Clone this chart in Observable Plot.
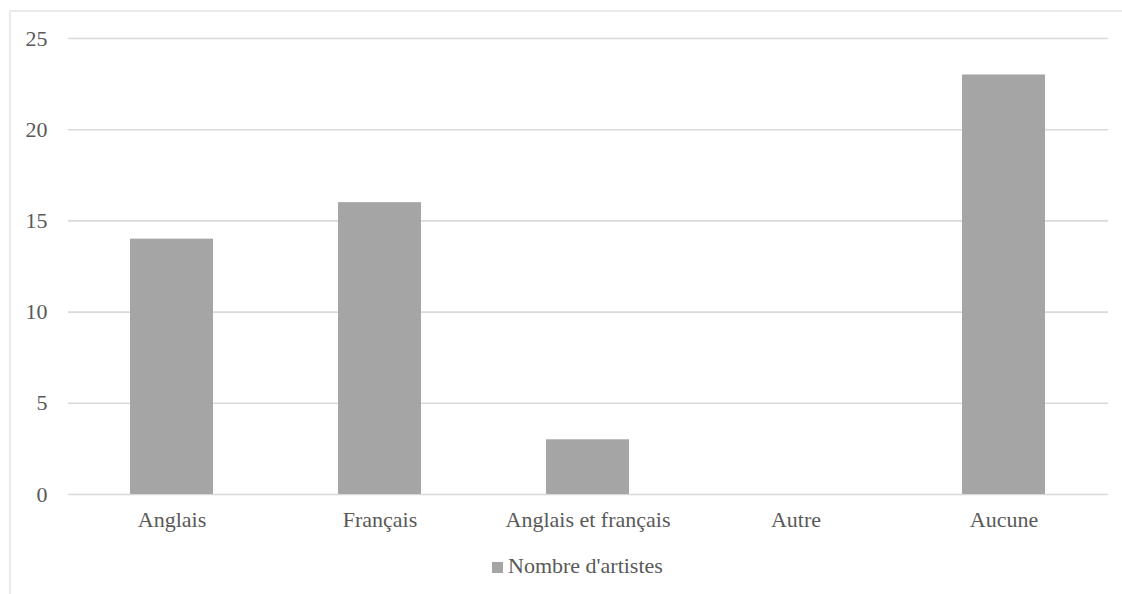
<!DOCTYPE html>
<html>
<head>
<meta charset="utf-8">
<script src="https://cdn.jsdelivr.net/npm/d3@7"></script>
<script src="https://cdn.jsdelivr.net/npm/@observablehq/plot@0.6"></script>
<style>
  html, body { margin: 0; padding: 0; background: #fff; }
  #wrap { position: relative; width: 1122px; height: 594px; overflow: hidden; font-family: "Liberation Serif", "Times New Roman", serif; }
  #frame { position: absolute; left: 9px; top: 10px; width: 1130px; height: 600px; border-left: 2px solid #ebebeb; border-top: 2px solid #ebebeb; }
  #chart { position: absolute; left: 0; top: 0; }
  #legend-sw { position: absolute; left: 492px; top: 562px; width: 11px; height: 11px; background: #a5a5a5; }
  #legend-tx { position: absolute; left: 508px; top: 555px; font-size: 22px; line-height: 22px; color: #595959; white-space: nowrap; }
</style>
</head>
<body>
<div id="wrap">
  <div id="frame"></div>
  <div id="chart"></div>
  <div id="legend-sw"></div>
  <div id="legend-tx"></div>
</div>
<script>
const categories = ["Anglais", "Français", "Anglais et français", "Autre", "Aucune"];
const values = [14, 16, 3, 0, 23];
const yTicks = [0, 5, 10, 15, 20, 25];
const seriesName = "Nombre d'artistes";

const data = categories.map((c, i) => ({ category: c, value: values[i] }));
document.getElementById("legend-tx").textContent = seriesName;

const chart = Plot.plot({
  width: 1122,
  height: 545,
  marginLeft: 68,
  marginRight: 14,
  marginTop: 38,
  marginBottom: 51,
  style: { fontFamily: "'Liberation Serif', 'Times New Roman', serif", fontSize: "22px", color: "#595959", background: "transparent" },
  x: { domain: categories, paddingInner: 0.6, paddingOuter: 0.3, label: null, tickSize: 0, tickPadding: 17 },
  y: { domain: [0, 25], ticks: yTicks, label: null, tickSize: 0, tickPadding: 21, tickFormat: d => String(d) },
  marks: [
    Plot.ruleY(yTicks, { stroke: "#d9d9d9", strokeWidth: 1.6 }),
    Plot.barY(data, { x: "category", y: "value", fill: "#a5a5a5" })
  ]
});
document.getElementById("chart").appendChild(chart);
</script>
</body>
</html>
